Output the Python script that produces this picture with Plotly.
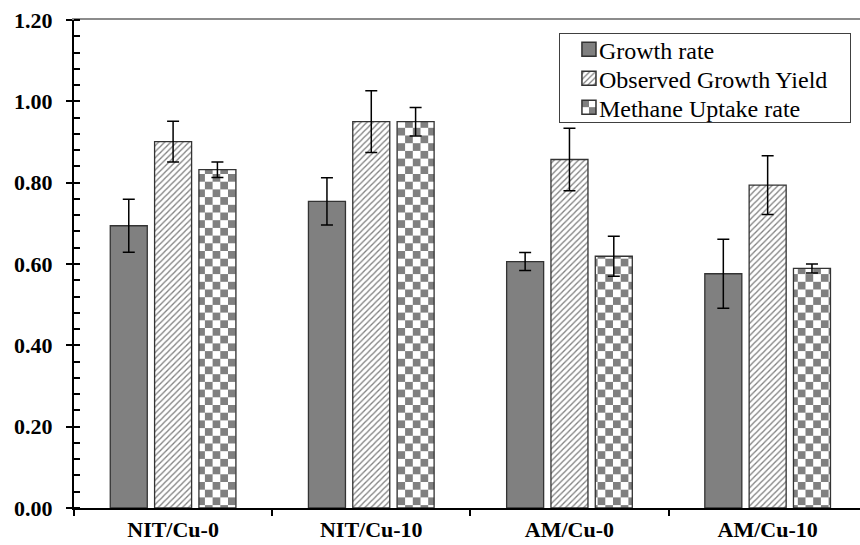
import plotly.graph_objects as go

# Measured parameters per culture condition (mean and standard deviation)
categories = ["NIT/Cu-0", "NIT/Cu-10", "AM/Cu-0", "AM/Cu-10"]

growth_rate = [0.694, 0.754, 0.606, 0.576]
growth_rate_err = [0.065, 0.058, 0.022, 0.085]

observed_yield = [0.901, 0.950, 0.857, 0.794]
observed_yield_err = [0.050, 0.076, 0.077, 0.072]

methane_uptake = [0.832, 0.950, 0.619, 0.589]
methane_uptake_err = [0.019, 0.035, 0.049, 0.011]

y_ticks = [0.0, 0.2, 0.4, 0.6, 0.8, 1.0, 1.2]

FONT = "'Liberation Serif', 'Times New Roman', Times, serif"
GREY = "#808080"
EDGE = "#333333"

err_style = dict(type="data", color="black", thickness=1.5, width=6, visible=True)

fig = go.Figure()
fig.add_trace(go.Bar(
    name="Growth rate", x=categories, y=growth_rate,
    error_y=dict(array=growth_rate_err, **err_style),
    marker=dict(color=GREY, line=dict(color=EDGE, width=1.3)),
))
fig.add_trace(go.Bar(
    name="Observed Growth Yield", x=categories, y=observed_yield,
    error_y=dict(array=observed_yield_err, **err_style),
    marker=dict(color="white", line=dict(color=EDGE, width=1.3),
                pattern=dict(shape="/", size=4.3, solidity=0.3,
                             fgcolor=GREY, bgcolor="white", fillmode="replace")),
))
fig.add_trace(go.Bar(
    name="Methane Uptake rate", x=categories, y=methane_uptake,
    error_y=dict(array=methane_uptake_err, **err_style),
    marker=dict(color="white", line=dict(color=EDGE, width=1.3),
                pattern=dict(shape="+", size=9, solidity=0.5,
                             fgcolor=GREY, bgcolor="white", fillmode="replace")),
))
# empty trace that carries the overlay axes (top frame line, inner half of major ticks)
fig.add_trace(go.Scatter(x=[], y=[], xaxis="x2", yaxis="y2",
                         showlegend=False, hoverinfo="skip"))

fig.update_layout(
    width=860, height=545,
    margin=dict(l=74, r=0, t=20, b=37, autoexpand=False),
    paper_bgcolor="white", plot_bgcolor="white",
    barmode="group", bargap=0.329, bargroupgap=0.165,
    font=dict(family=FONT, color="black"),
    showlegend=True,
    hovermode=False,
    legend=dict(
        x=0.617, y=0.973, xanchor="left", yanchor="top",
        bgcolor="white", bordercolor="#404040", borderwidth=1,
        font=dict(family=FONT, size=24, color="black"),
        tracegroupgap=0, itemclick=False,
    ),
    xaxis=dict(
        type="category", range=[-0.5, 3.466], automargin=False,
        showline=True, linecolor="black", linewidth=2,
        ticks="outside", tickson="boundaries", ticklen=6, tickwidth=2, tickcolor="black",
        tickfont=dict(family=FONT, size=22, color="black", weight="bold"),
        ticklabelstandoff=1,
        showgrid=False, zeroline=False,
    ),
    yaxis=dict(
        range=[0, 1.2], tickvals=y_ticks, tickformat=".2f", automargin=False,
        showline=True, linecolor="black", linewidth=2,
        ticks="outside", ticklen=6, tickwidth=2, tickcolor="black",
        minor=dict(dtick=0.04, ticks="inside", ticklen=6, tickwidth=2, tickcolor="black", showgrid=False),
        tickfont=dict(family=FONT, size=22, color="black", weight="bold"),
        ticklabelstandoff=9,
        showgrid=False, zeroline=False,
    ),
    yaxis2=dict(
        range=[0, 1.2], overlaying="y", anchor="x2", side="left", automargin=False,
        tickvals=y_ticks, ticks="inside", ticklen=6, tickwidth=2, tickcolor="black",
        showticklabels=False, showline=False, showgrid=False, zeroline=False,
    ),
    xaxis2=dict(
        range=[0, 1], overlaying="x", anchor="y2", side="top", automargin=False,
        showline=True, linecolor="#8c8c8c", linewidth=1.5,
        ticks="", showticklabels=False, showgrid=False, zeroline=False,
    ),
)

# Checkerboard fill for the third series, and a tighter legend layout
post_js = """
(function(){
  var gd = document.getElementById('{plot_id}');
  var NS = 'http://www.w3.org/2000/svg';
  var S = 7.7;
  function toChecker(pat){
    if(!pat || pat.getAttribute('data-checker')) return;
    pat.setAttribute('data-checker', '1');
    pat.setAttribute('width', 2*S);
    pat.setAttribute('height', 2*S);
    pat.setAttribute('patternUnits', 'userSpaceOnUse');
    pat.removeAttribute('patternTransform');
    while(pat.firstChild) pat.removeChild(pat.firstChild);
    [[0,0,2*S,2*S,'#ffffff'],[0,0,S,S,'#808080'],[S,S,S,S,'#808080']].forEach(function(r){
      var e = document.createElementNS(NS, 'rect');
      e.setAttribute('x', r[0]); e.setAttribute('y', r[1]);
      e.setAttribute('width', r[2]); e.setAttribute('height', r[3]);
      e.setAttribute('fill', r[4]);
      pat.appendChild(e);
    });
  }
  function patternOf(el){
    var f = el.style.fill || el.getAttribute('fill') || '';
    var m = f.match(/#([^"')]+)/);
    return m ? document.getElementById(m[1]) : null;
  }
  function tightenLegend(){
    var leg = gd.querySelector('.legend');
    if(!leg) return;
    var items = leg.querySelectorAll('.traces');
    var ROW0 = 16, PITCH = 29, SHIFT = 9, TEXT_X = 30;
    items.forEach(function(it, i){
      var m = (it.getAttribute('transform') || '').match(/translate\\(([-\\d.]+)[ ,]*([-\\d.]*)\\)/);
      var x = m ? parseFloat(m[1]) : 0;
      if(!it.getAttribute('data-x0')) it.setAttribute('data-x0', x);
      x = parseFloat(it.getAttribute('data-x0'));
      it.setAttribute('transform', 'translate(' + (x + SHIFT) + ',' + (ROW0 + PITCH*i) + ')');
      var t = it.querySelector('.legendtext');
      if(t){
        t.setAttribute('x', TEXT_X);
        t.querySelectorAll('tspan').forEach(function(s){ if(s.hasAttribute('x')) s.setAttribute('x', TEXT_X); });
      }
      it.querySelectorAll('.legendpoints path').forEach(function(p){
        if(p.getAttribute('data-scaled')) return;
        p.setAttribute('data-scaled', '1');
        var tr = p.getAttribute('transform') || '';
        p.setAttribute('transform', (tr + ' scale(1.17)').trim());
      });
    });
    var bg = leg.querySelector('rect.bg');
    if(bg){ bg.setAttribute('width', 291); bg.setAttribute('height', 89); }
  }
  function apply(){
    var traces = gd.querySelectorAll('.barlayer .trace');
    if(traces.length > 2){
      traces[2].querySelectorAll('.point path').forEach(function(p){ toChecker(patternOf(p)); });
    }
    var items = gd.querySelectorAll('.legend .traces');
    if(items.length > 2){
      items[2].querySelectorAll('.legendpoints path').forEach(function(p){ toChecker(patternOf(p)); });
    }
    tightenLegend();
  }
  apply();
  gd.on('plotly_afterplot', apply);
})();
"""

fig.write_html("out.html", post_script=post_js)
